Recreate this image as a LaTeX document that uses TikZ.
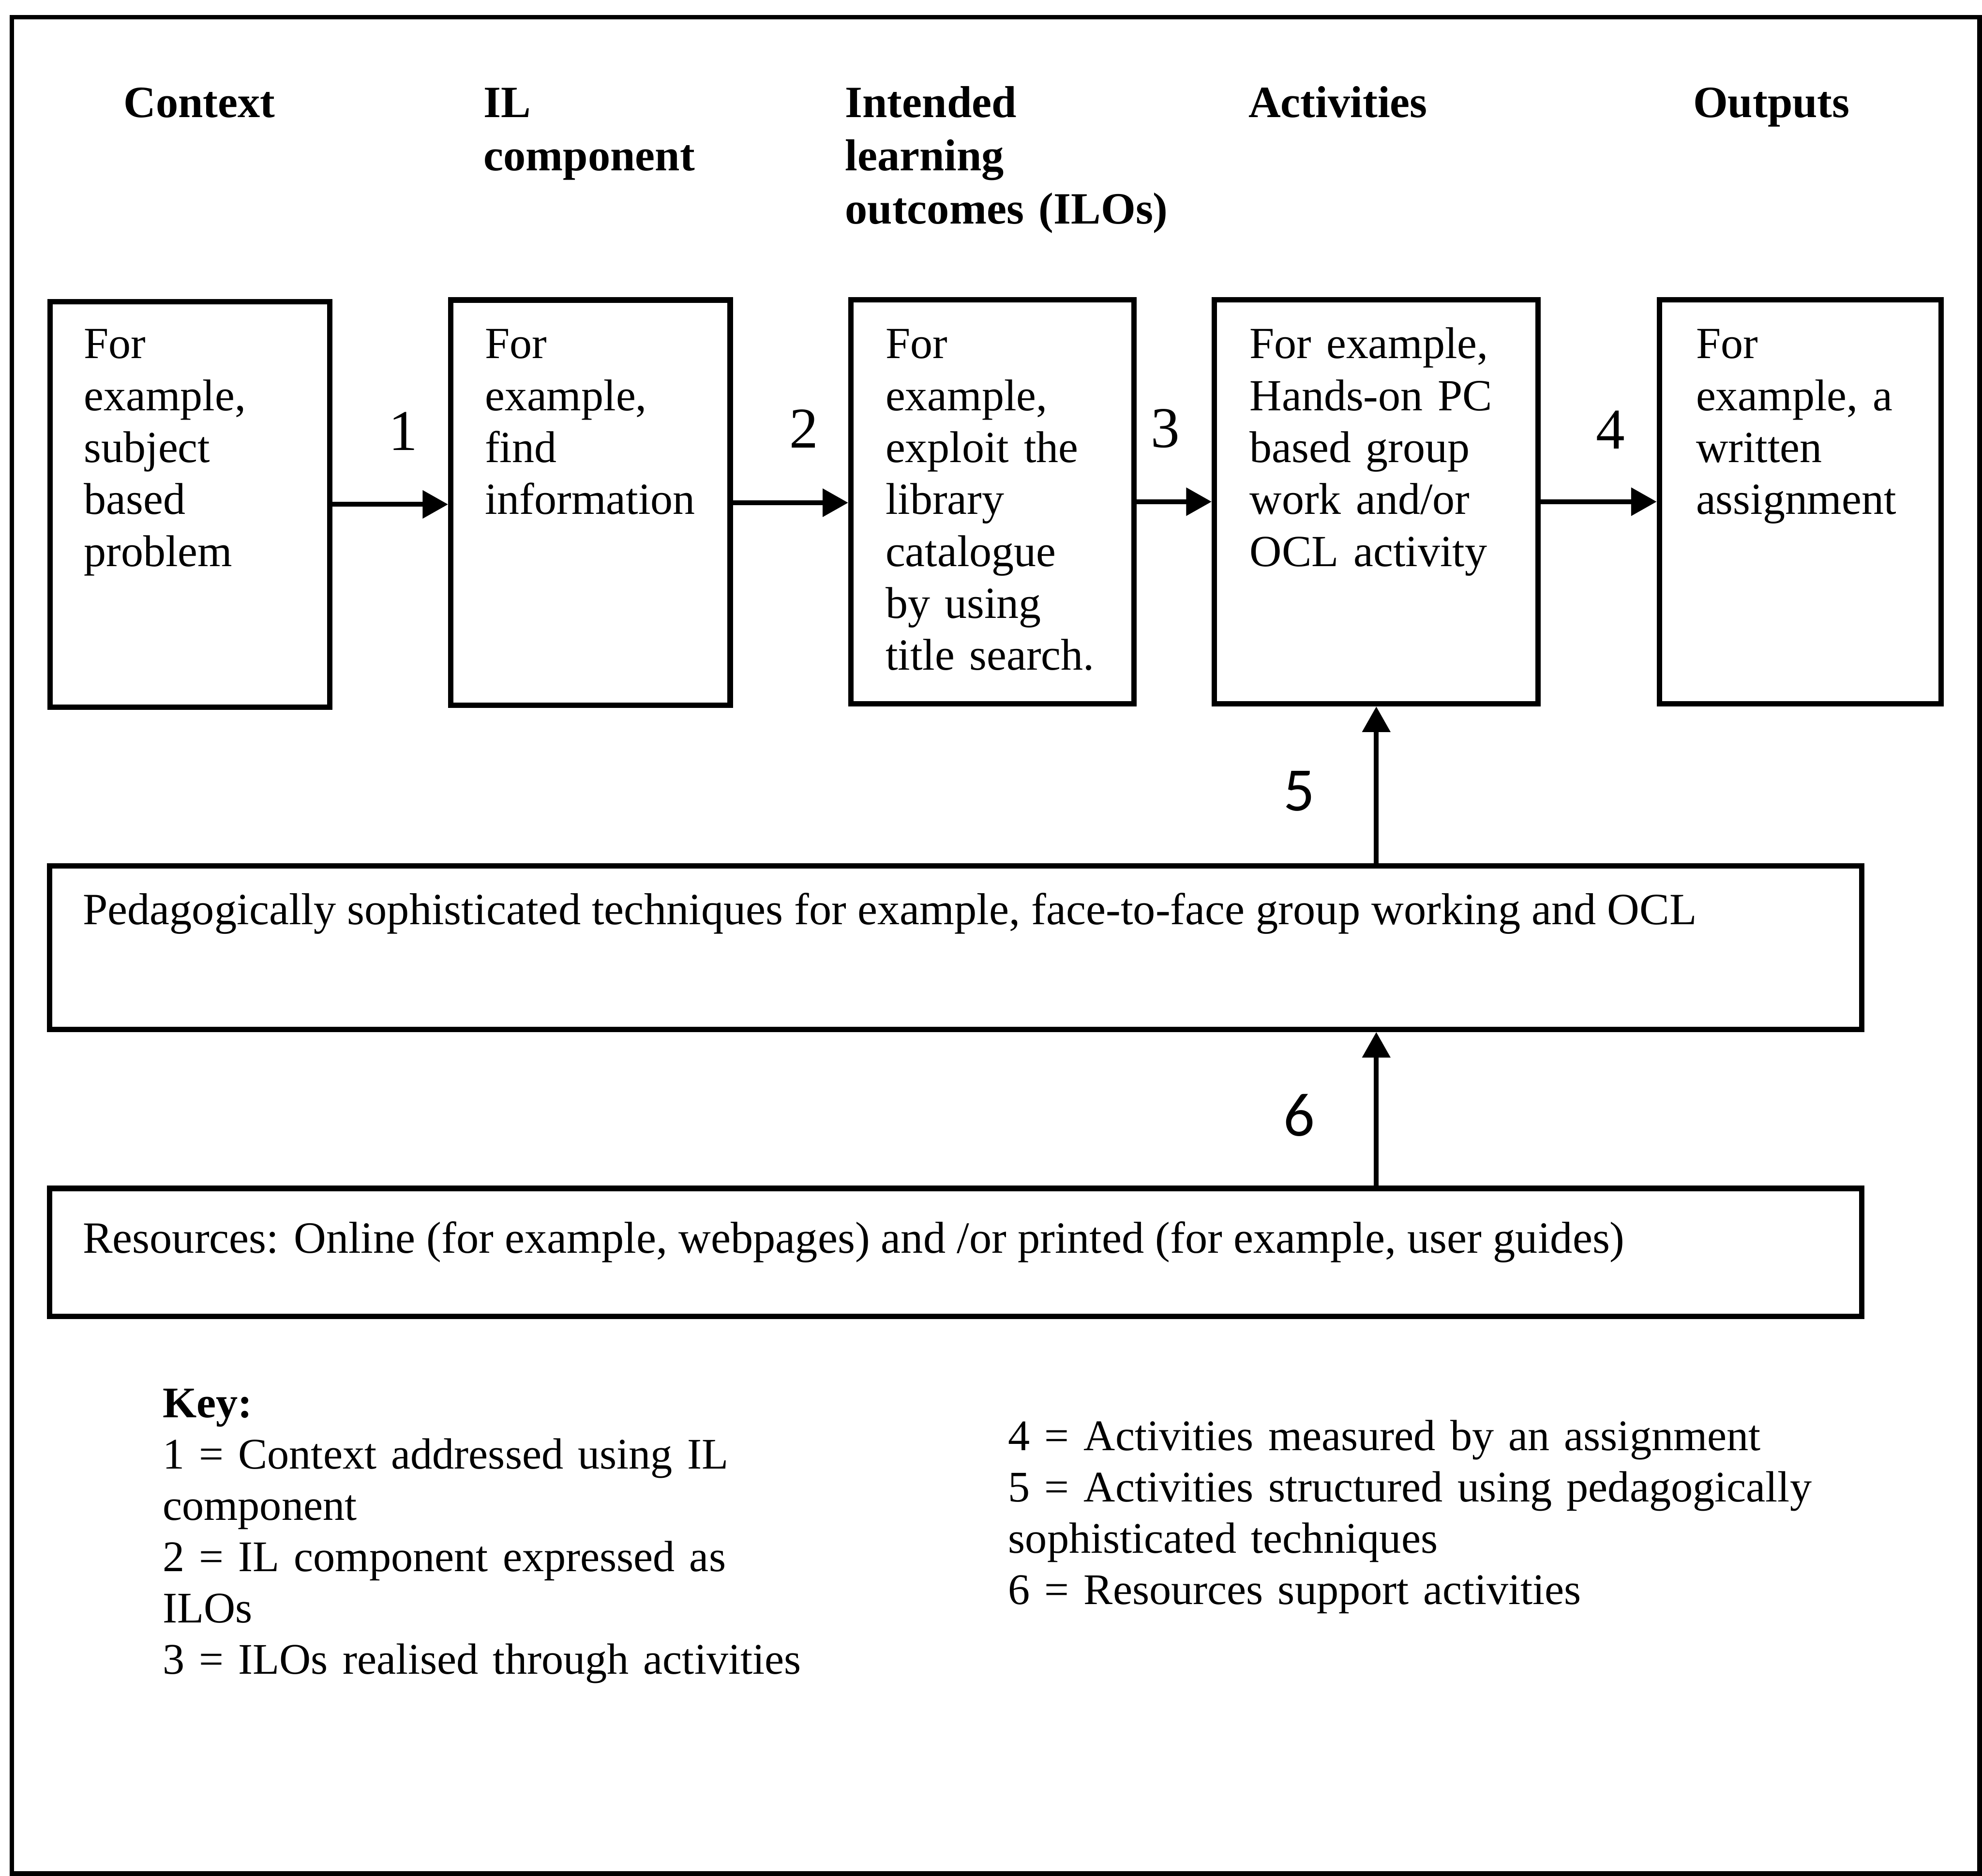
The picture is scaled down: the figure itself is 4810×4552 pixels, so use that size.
\documentclass[tikz,border=0pt]{standalone}
\usepackage{fontspec}
\setmainfont{Liberation Serif}
\newfontfamily\labelfont{Carlito}
\usetikzlibrary{arrows.meta}

\begin{document}
\begin{tikzpicture}[x=0.1pt, y=-0.1pt,
  frame/.style={draw, line width=1.1pt},
  stage/.style={draw, line width=1.3pt, inner sep=0pt},
  heading/.style={anchor=base west, inner sep=0pt, align=left, text width=95pt,
    font=\fontsize{10.85pt}{12.9pt}\selectfont\bfseries},
  boxtext/.style={anchor=base west, inner sep=0pt, align=left, text width=75pt,
    font=\fontsize{10.8pt}{12.6pt}\selectfont},
  widetext/.style={anchor=base west, inner sep=0pt,
    font=\fontsize{10.85pt}{12.6pt}\selectfont},
  keytext/.style={anchor=base west, inner sep=0pt, align=left, text width=200pt,
    font=\fontsize{10.6pt}{12.45pt}\selectfont},
  num/.style={inner sep=0pt, font=\fontsize{14pt}{16pt}\selectfont},
  numsans/.style={inner sep=0pt, font=\fontsize{15pt}{17pt}\selectfont\labelfont},
  flow/.style={-{Triangle[length=6.2pt,width=6.6pt]}, line width=1.2pt}]

\useasboundingbox (0,0) rectangle (4810,4552);
\fill[white] (0,0) rectangle (4810,4552);

% outer frame
\draw[frame] (29,42) rectangle (4804,4547);

% column headings
\node[heading] (hctx) at (298,285) {Context};
\node[heading] (hil)  at (1172,285) {IL\\component};
\node[heading] (hilo) at (2049,285) {Intended\\learning\\outcomes (ILOs)};
\node[heading] (hact) at (3028,285) {Activities};
\node[heading] (hout) at (4107,285) {Outputs};

% the five stages
\node[stage, minimum width=67.8pt, minimum height=98.4pt] (b1) at (461,1224) {};
\node[stage, minimum width=67.8pt, minimum height=98.4pt] (b2) at (1433,1220) {};
\node[stage, minimum width=68.7pt, minimum height=98.1pt] (b3) at (2408.5,1217.5) {};
\node[stage, minimum width=78.6pt, minimum height=98.1pt] (b4) at (3340,1217.5) {};
\node[stage, minimum width=68.4pt, minimum height=98.1pt] (b5) at (4369,1217.5) {};

\node[boxtext] (t1) at (202,870)  {For\\example,\\subject\\based\\problem};
\node[boxtext] (t2) at (1175,870) {For\\example,\\find\\information};
\node[boxtext] (t3) at (2147,870) {For\\example,\\exploit the\\library\\catalogue\\by using\\title search.};
\node[boxtext] (t4) at (3031,870) {For example,\\Hands-on PC\\based group\\work and/or\\OCL activity};
\node[boxtext] (t5) at (4114,870) {For\\example, a\\written\\assignment};

% supporting layers
\node[stage, minimum width=439.8pt, minimum height=39.7pt] (ped) at (2319,2299.5) {};
\node[stage, minimum width=439.8pt, minimum height=31.1pt] (res) at (2319,3039.5) {};
\node[widetext] (tped) at (199,2244) {Pedagogically sophisticated techniques for example, face-to-face group working and OCL};
\node[widetext] (tres) at (199,3041) {Resources: Online (for example, webpages) and /or printed (for example, user guides)};

% connectors
\draw[flow] (b1.east) -- (b2.west |- b1.east);
\draw[flow] (b2.east) -- (b3.west |- b2.east);
\draw[flow] (b3.east) -- (b4.west |- b3.east);
\draw[flow] (b4.east) -- (b5.west |- b4.east);
\draw[flow] (b4.south |- ped.north) -- (b4.south);
\draw[flow] (b4.south |- res.north) -- (b4.south |- ped.south);

% connector numbers
\node[num] (n1) at (979,1046) {1};
\node[num] (n2) at (1951,1040) {2};
\node[num] (n3) at (2828,1040) {3};
\node[num] (n4) at (3908,1043) {4};
\node[numsans] (n5) at (3153,1920) {5};
\node[numsans] (n6) at (3153,2706) {6};

% key
\node[keytext] (keyl) at (393,3440) {\textbf{Key:}\\1 = Context addressed using IL\\component\\2 = IL component expressed as\\ILOs\\3 = ILOs realised through activities};
\node[keytext] (keyr) at (2445,3520) {4 = Activities measured by an assignment\\5 = Activities structured using pedagogically\\sophisticated techniques\\6 = Resources support activities};
\end{tikzpicture}
\end{document}
